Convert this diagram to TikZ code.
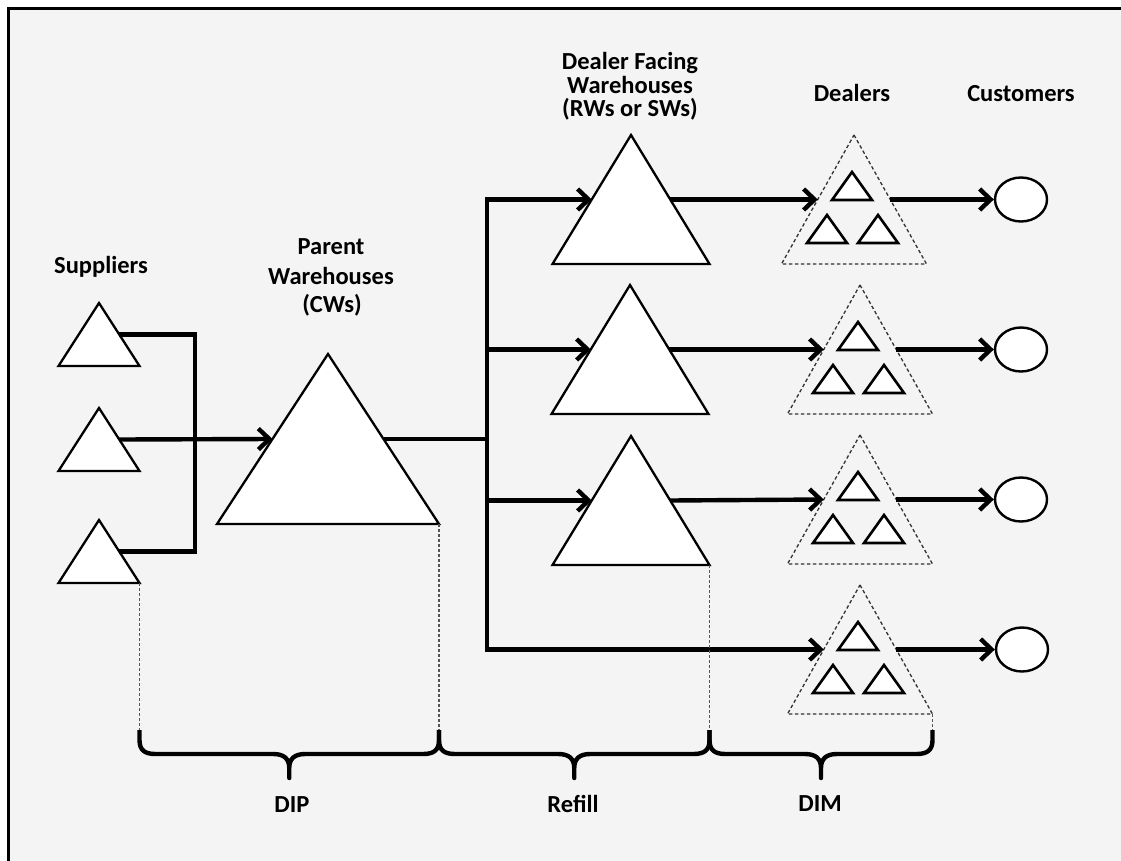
\documentclass[tikz,border=0pt]{standalone}
\usepackage{fontspec}
\setmainfont{Carlito}
\usetikzlibrary{arrows.meta,shapes.geometric}
\definecolor{panel}{HTML}{F4F4F4}
\definecolor{guide}{HTML}{555555}

\tikzset{
  conn/.style={line width=4.4pt, draw=black},
  flow/.style={conn, -{Straight Barb[length=11pt,width=21pt]}},
  depot/.style={draw=black, fill=white, line width=2.3pt, line join=miter},
  site/.style={draw=black, fill=white, line width=2.6pt, line join=miter},
  cluster/.style={draw=black!80, line width=1.3pt, dash pattern=on 3.5pt off 2.5pt},
  guideline/.style={draw=guide, line width=1.1pt, dash pattern=on 3pt off 2pt},
  bracket/.style={draw=black, line width=4.4pt, line join=round},
  lbl/.style={font=\fontsize{24.5}{28}\selectfont\bfseries, inner sep=0pt, anchor=base},
  customer/.style={ellipse, draw=black, fill=white, line width=2.4pt,
    minimum width=52pt, minimum height=44pt, inner sep=0pt},
}

% triangle with apex (#3,#4), base width #5, height #6;
% named points: mid of left/right side and base-right corner
\newcommand\depotshape[6]{%
  \path[#2] (#3,#4) -- (#3+#5/2,#4+#6) -- (#3-#5/2,#4+#6) -- cycle;
  \coordinate (#1-l) at (#3-#5/4,#4+#6/2);
  \coordinate (#1-r) at (#3+#5/4,#4+#6/2);
  \coordinate (#1-br) at (#3+#5/2,#4+#6);
}
% dashed dealer group holding three small sites
\newcommand\dealergroup[3]{%
  \depotshape{#1}{cluster}{#2}{#3}{145}{129}
  \path[site] (#2-2,#3+37) -- ++(20,28) -- ++(-40,0) -- cycle;
  \path[site] (#2-27,#3+80) -- ++(20,28) -- ++(-40,0) -- cycle;
  \path[site] (#2+24,#3+80) -- ++(20,28) -- ++(-40,0) -- cycle;
}
% horizontal curly brace from x=#1 to x=#2, tips up, point down
\newcommand\spanbrace[2]{%
  \draw[bracket] (#1,730) -- (#1,740)
    .. controls (#1,750) and (#1+5,754) .. (#1+16,754)
    -- ({(#1+#2)/2-16},754)
    .. controls ({(#1+#2)/2-5},754) and ({(#1+#2)/2},759) .. ({(#1+#2)/2},768)
    -- ({(#1+#2)/2},778) -- ({(#1+#2)/2},768)
    .. controls ({(#1+#2)/2},759) and ({(#1+#2)/2+5},754) .. ({(#1+#2)/2+16},754)
    -- (#2-16,754)
    .. controls (#2-5,754) and (#2,750) .. (#2,740) -- (#2,730);
}

\begin{document}
\begin{tikzpicture}[x=1pt,y=-1pt]
\useasboundingbox (0,0) rectangle (1121,861);
\fill[white] (0,0) rectangle (1121,861);
\fill[panel] (8,9) rectangle (1121,861);
\draw[line width=3pt] (8,861) -- (8,9) -- (1121,9);

% suppliers
\depotshape{s1}{depot}{99}{303}{81}{63}
\depotshape{s2}{depot}{99}{408}{81}{63}
\depotshape{s3}{depot}{99}{520}{81}{63}
% parent warehouse
\depotshape{cw}{depot}{328}{354}{222}{170}
% dealer facing warehouses
\depotshape{r1}{depot}{631}{135}{157}{129}
\depotshape{r2}{depot}{630}{285}{157}{129}
\depotshape{r3}{depot}{631}{436}{157}{129}
% dealers
\dealergroup{d1}{854}{135}
\dealergroup{d2}{860}{285}
\dealergroup{d3}{860}{435}
\dealergroup{d4}{860}{585}
% customers
\node[customer] (c1) at (1021,199.5) {};
\node[customer] (c2) at (1021,349.5) {};
\node[customer] (c3) at (1021,499.5) {};
\node[customer] (c4) at (1022,649.5) {};

% junction points
\coordinate (sbus) at (195,439.5);
\coordinate (rbus) at (487,439);
\coordinate (lvl) at (0,730);

% flows
\draw[conn] (s1-r) -| (sbus) |- (s3-r);
\draw[flow] (s2-r) -- (cw-l);
\draw[conn] (cw-r) -- (rbus);
\draw[flow] (rbus) |- (r1-l);
\draw[flow] (rbus) |- (r2-l);
\draw[flow] (rbus) |- (r3-l);
\draw[flow] (rbus) |- (d4-l);
\draw[flow] (r1-r) -- (d1-l);
\draw[flow] (r2-r) -- (d2-l);
\draw[flow] (r3-r) -- (d3-l);
\draw[flow] (d1-r) -- (c1.west);
\draw[flow] (d2-r) -- (c2.west);
\draw[flow] (d3-r) -- (c3.west);
\draw[flow] (d4-r) -- (c4.west);

% guides down to the braces
\draw[guideline] (s3-br) -- (s3-br |- lvl);
\draw[guideline] (cw-br) -- (cw-br |- lvl);
\draw[guideline] (r3-br) -- (r3-br |- lvl);
\draw[guideline] (d4-br) -- (d4-br |- lvl);

% braces
\spanbrace{139.5}{439}
\spanbrace{439}{709.5}
\spanbrace{709.5}{932.5}

% labels
\node[lbl] (t-sup) at (101,273) {Suppliers};
\node[lbl] (t-cw1) at (331,254) {Parent};
\node[lbl] (t-cw2) at (331,284) {Warehouses};
\node[lbl] (t-cw3) at (332,312) {(CWs)};
\node[lbl] (t-rw1) at (630,70) {Dealer Facing};
\node[lbl] (t-rw2) at (630,94) {Warehouses};
\node[lbl] (t-rw3) at (630,117) {(RWs or SWs)};
\node[lbl] (t-dl) at (852,102) {Dealers};
\node[lbl] (t-cu) at (1021,102) {Customers};
\node[lbl] (t-dip) at (292,812) {DIP};
\node[lbl] (t-ref) at (573,812) {Refill};
\node[lbl] (t-dim) at (820,811) {DIM};
\end{tikzpicture}
\end{document}
